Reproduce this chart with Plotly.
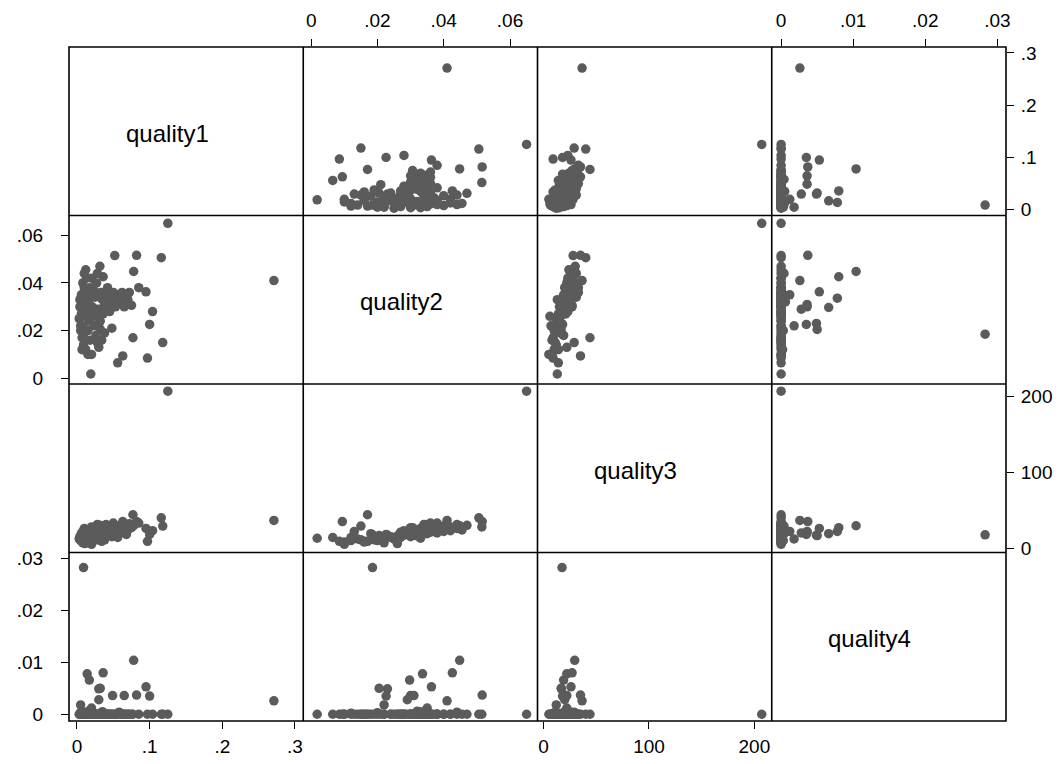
import plotly.graph_objects as go

names = ["quality1", "quality2", "quality3", "quality4"]

quality1 = [0.271, 0.125, 0.009, 0.078, 0.036, 0.014, 0.017, 0.095, 0.032, 0.030,
            0.100, 0.082, 0.065, 0.049, 0.030, 0.005, 0.020,
            0.008, 0.010, 0.012, 0.006, 0.004, 0.003, 0.005, 0.007, 0.009, 0.012,
            0.015, 0.019, 0.014, 0.016, 0.018, 0.020, 0.022, 0.024, 0.026, 0.028,
            0.030, 0.0315, 0.033, 0.035, 0.037, 0.040, 0.042, 0.044, 0.046, 0.048,
            0.050, 0.052, 0.055, 0.058, 0.060, 0.063, 0.056, 0.066, 0.070, 0.075,
            0.077, 0.085, 0.104, 0.097, 0.118, 0.116, 0.010, 0.013, 0.017, 0.021,
            0.025, 0.027, 0.029, 0.008, 0.011, 0.034, 0.038, 0.045, 0.053, 0.062,
            0.072, 0.020, 0.006, 0.009, 0.011, 0.013, 0.015, 0.018, 0.023, 0.026,
            0.032, 0.036, 0.039, 0.043, 0.004, 0.007, 0.028, 0.064, 0.068]
quality2 = [0.041, 0.065, 0.0185, 0.0448, 0.0426, 0.0336, 0.0297, 0.0363, 0.0205, 0.0230,
            0.0226, 0.0516, 0.030, 0.031, 0.029, 0.022, 0.035,
            0.040, 0.044, 0.0455, 0.035, 0.030, 0.025, 0.020, 0.017, 0.014, 0.012,
            0.010, 0.0018, 0.028, 0.032, 0.038, 0.042, 0.026, 0.022, 0.018, 0.015,
            0.013, 0.047, 0.036, 0.033, 0.030, 0.035, 0.038, 0.032, 0.034, 0.021,
            0.036, 0.0515, 0.033, 0.035, 0.032, 0.0094, 0.0065, 0.034, 0.033, 0.0306,
            0.017, 0.038, 0.028, 0.0085, 0.015, 0.0506, 0.038, 0.033, 0.024, 0.030,
            0.034, 0.040, 0.027, 0.022, 0.026, 0.016, 0.019, 0.028, 0.030, 0.036,
            0.036, 0.010, 0.027, 0.031, 0.036, 0.042, 0.020, 0.016, 0.037, 0.029,
            0.024, 0.027, 0.032, 0.035, 0.033, 0.012, 0.044, 0.033, 0.031]
quality3 = [36.5, 207, 17.5, 29.5, 27, 22, 19, 26, 16.6, 17,
            18, 35, 22, 21, 20, 12, 22,
            22, 26, 24, 19, 15, 12, 10, 9, 12, 14,
            8, 13, 18, 21, 25, 28, 16, 13, 19, 11,
            22, 30, 24, 20, 27, 31, 23, 18, 26, 15,
            33, 28, 25, 29, 20, 35, 14, 31, 24, 27,
            44, 33, 23, 9, 29, 40, 20, 17, 14, 22,
            25, 29, 19, 7, 6, 9, 11, 17, 23, 28,
            32, 5, 14, 17, 21, 23, 11, 8, 26, 18,
            15, 21, 16, 28, 13, 10, 31, 26, 18]
quality4 = [0.0026, 0.0, 0.0283, 0.0104, 0.0080, 0.0078, 0.0066, 0.0053, 0.0050, 0.0049,
            0.0035, 0.0037, 0.0036, 0.0036, 0.0028, 0.0018, 0.0012,
            0, 0.0004, 0, 0, 0, 0, 0.0003, 0, 0, 0,
            0, 0, 0, 0.0006, 0, 0, 0, 0, 0, 0,
            0, 0, 0, 0.0005, 0, 0, 0, 0, 0, 0,
            0, 0, 0, 0.0004, 0, 0, 0, 0, 0, 0,
            0, 0, 0, 0, 0, 0, 0, 0, 0, 0,
            0, 0, 0, 0, 0, 0, 0, 0, 0, 0,
            0, 0, 0, 0, 0, 0, 0, 0, 0, 0,
            0, 0, 0, 0, 0, 0.0002, 0, 0, 0]

data = [quality1, quality2, quality3, quality4]

ranges = [[-0.011, 0.3114], [-0.0024, 0.0683], [-5.8, 216.5], [-0.0013, 0.0312]]
tickvals = [[0, 0.1, 0.2, 0.3], [0, 0.02, 0.04, 0.06], [0, 100, 200], [0, 0.01, 0.02, 0.03]]
ticktext = [["0", ".1", ".2", ".3"], ["0", ".02", ".04", ".06"], ["0", "100", "200"],
            ["0", ".01", ".02", ".03"]]

MARKER = "#5b5b5b"
FONT = "Liberation Sans, Arial, sans-serif"
TICKFONT = dict(family=FONT, size=19, color="black")

fig = go.Figure()
layout = {}
annotations = []
n = 4
for i in range(n):          # row
    for j in range(n):      # column
        k = i * n + j + 1
        sx = "" if k == 1 else str(k)
        xd = [j / n, (j + 1) / n]
        yd = [1 - (i + 1) / n, 1 - i / n]
        show_x = (j % 2 == 0 and i == n - 1) or (j % 2 == 1 and i == 0)
        show_y = (i % 2 == 1 and j == 0) or (i % 2 == 0 and j == n - 1)
        xtop = j % 2 == 1
        yright = i % 2 == 0
        xa = dict(domain=xd, anchor="y" + sx, range=ranges[j], showgrid=False,
                  zeroline=False, showline=False, showticklabels=show_x,
                  automargin=False,
                  ticks="outside" if show_x else "", ticklen=7, tickwidth=1.4,
                  tickcolor="black", tickvals=tickvals[j], ticktext=ticktext[j],
                  side="top" if xtop else "bottom",
                  ticklabelstandoff=4 if xtop else 1,
                  tickfont=TICKFONT)
        ya = dict(domain=yd, anchor="x" + sx, range=ranges[i], showgrid=False,
                  zeroline=False, showline=False, showticklabels=show_y,
                  automargin=False,
                  ticks="outside" if show_y else "", ticklen=7, tickwidth=1.4,
                  tickcolor="black", tickvals=tickvals[i], ticktext=ticktext[i],
                  side="right" if yright else "left",
                  ticklabelstandoff=3 if yright else 14,
                  tickfont=TICKFONT)
        if i == j:
            xa.update(range=[0, 1], showticklabels=False, ticks="")
            ya.update(range=[0, 1], showticklabels=False, ticks="")
        layout["xaxis" + sx] = xa
        layout["yaxis" + sx] = ya
        if i == j:
            fig.add_trace(go.Scatter(x=[None], y=[None], mode="markers",
                                     xaxis="x" + sx, yaxis="y" + sx,
                                     showlegend=False, hoverinfo="skip"))
            annotations.append(dict(text=names[i], x=0.5, y=0.5,
                                    xref="x" + sx + " domain", yref="y" + sx + " domain",
                                    xshift=-19, yshift=-2, showarrow=False,
                                    font=dict(family=FONT, size=24, color="black")))
        else:
            fig.add_trace(go.Scatter(x=data[j], y=data[i], mode="markers",
                                     xaxis="x" + sx, yaxis="y" + sx,
                                     marker=dict(color=MARKER, size=9.5,
                                                 line=dict(width=0)),
                                     showlegend=False, cliponaxis=False))

# panel borders
shapes = [dict(type="rect", xref="paper", yref="paper", x0=0, x1=1, y0=0, y1=1,
               line=dict(color="black", width=1.6), layer="above")]
for t in [0.25, 0.5, 0.75]:
    shapes.append(dict(type="line", xref="paper", yref="paper", x0=t, x1=t, y0=0, y1=1,
                       line=dict(color="black", width=1.6), layer="above"))
    shapes.append(dict(type="line", xref="paper", yref="paper", x0=0, x1=1, y0=t, y1=t,
                       line=dict(color="black", width=1.6), layer="above"))

fig.update_layout(**layout)
fig.update_layout(width=1056, height=756, plot_bgcolor="white", paper_bgcolor="white",
                  margin=dict(l=61, r=58, t=39, b=43, autoexpand=False),
                  annotations=annotations, shapes=shapes, showlegend=False)
fig.write_html("out.html")
